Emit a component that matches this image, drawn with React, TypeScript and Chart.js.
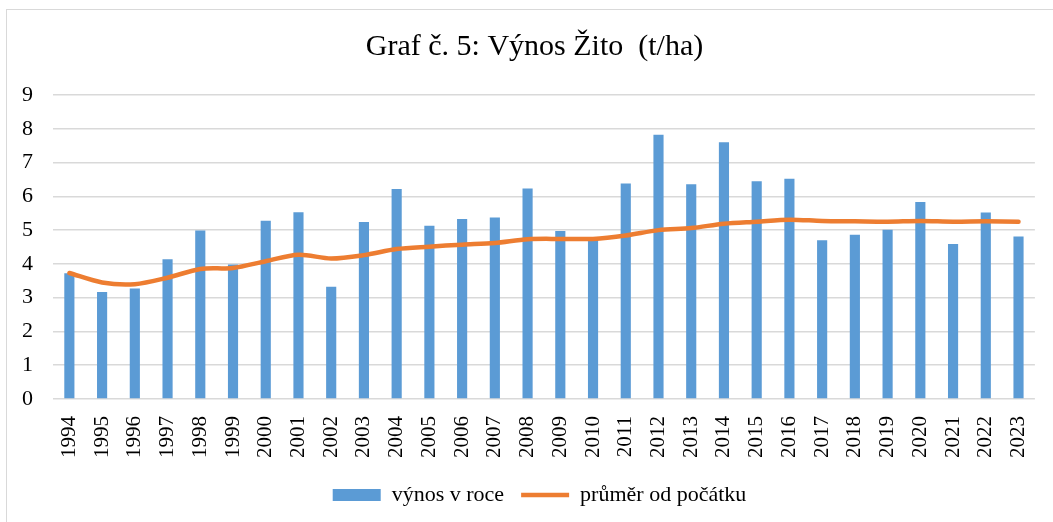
import React, { useEffect, useRef } from "react";
import { Chart, registerables } from "chart.js";

Chart.register(...registerables);

const years = [
  "1994", "1995", "1996", "1997", "1998", "1999", "2000", "2001", "2002", "2003",
  "2004", "2005", "2006", "2007", "2008", "2009", "2010", "2011", "2012", "2013",
  "2014", "2015", "2016", "2017", "2018", "2019", "2020", "2021", "2022", "2023",
];

const yieldPerYear = [
  3.72, 3.17, 3.27, 4.14, 4.99, 3.98, 5.28, 5.53, 3.32, 5.24,
  6.22, 5.13, 5.33, 5.37, 6.23, 4.97, 4.73, 6.38, 7.82, 6.36,
  7.60, 6.45, 6.52, 4.70, 4.86, 5.01, 5.83, 4.59, 5.52, 4.81,
];

const averageSinceStart = [
  3.73, 3.45, 3.40, 3.59, 3.85, 3.88, 4.08, 4.27, 4.16, 4.26,
  4.44, 4.51, 4.57, 4.62, 4.73, 4.74, 4.74, 4.84, 5.00, 5.06,
  5.19, 5.25, 5.31, 5.27, 5.26, 5.25, 5.27, 5.25, 5.26, 5.25,
];

const yTicks = [0, 1, 2, 3, 4, 5, 6, 7, 8, 9];

const titleText = "Graf č. 5: Výnos Žito  (t/ha)";
const seriesNames = ["výnos v roce", "průměr od počátku"];

const FONT = "'Liberation Serif', 'Times New Roman', serif";

const shiftBoxes = {
  id: "shiftBoxes",
  afterLayout(chart: any) {
    if (chart.titleBlock) chart.titleBlock.left += 30;
    if (chart.legend) chart.legend.left += 40;
  },
};

export default function App() {
  const ref = useRef<HTMLCanvasElement | null>(null);

  useEffect(() => {
    if (!ref.current) return;
    const chart = new Chart(ref.current, {
      type: "bar",
      data: {
        labels: years,
        datasets: [
          {
            type: "bar",
            label: seriesNames[0],
            data: yieldPerYear,
            backgroundColor: "#5b9bd5",
            borderWidth: 0,
            barPercentage: 0.31,
            categoryPercentage: 1,
            order: 2,
            pointStyle: "rect",
          } as any,
          {
            type: "line",
            label: seriesNames[1],
            data: averageSinceStart,
            borderColor: "#ed7d31",
            backgroundColor: "#ed7d31",
            borderWidth: 4.5,
            pointRadius: 0,
            pointHoverRadius: 0,
            pointStyle: "line",
            tension: 0.3,
            borderCapStyle: "round",
            borderJoinStyle: "round",
            order: 1,
          } as any,
        ],
      },
      plugins: [shiftBoxes],
      options: {
        responsive: false,
        animation: false,
        devicePixelRatio: 1,
        layout: { padding: { left: 3, right: 17, top: 19, bottom: 6 } },
        plugins: {
          title: {
            display: true,
            text: titleText,
            color: "#000",
            font: { family: FONT, size: 30, weight: "normal" },
            padding: { top: 10, bottom: 30 },
          },
          legend: {
            display: true,
            position: "bottom",
            labels: {
              usePointStyle: true,
              pointStyleWidth: 48,
              boxHeight: 12,
              color: "#000",
              font: { family: FONT, size: 22, lineHeight: 1 },
              padding: 17,
              sort: (a: any, b: any) => a.datasetIndex - b.datasetIndex,
            },
          },
          tooltip: { enabled: false },
        },
        scales: {
          x: {
            grid: { display: false },
            border: { display: false },
            ticks: {
              color: "#000",
              font: { family: FONT, size: 21 },
              minRotation: 90,
              maxRotation: 90,
              autoSkip: false,
              padding: 9,
            },
          },
          y: {
            min: 0,
            max: 9,
            afterBuildTicks: (axis: any) => {
              axis.ticks = yTicks.map((v) => ({ value: v }));
            },
            afterFit: (axis: any) => {
              axis.width = 50;
            },
            grid: { color: "#d9d9d9", lineWidth: 1.5, drawTicks: false },
            border: { display: false },
            ticks: {
              color: "#000",
              font: { family: FONT, size: 22 },
              padding: 20,
            },
          },
        },
      },
    });
    return () => chart.destroy();
  }, []);

  return (
    <div
      style={{
        position: "fixed",
        left: 0,
        top: 0,
        width: 1053,
        height: 522,
        overflow: "hidden",
        background: "#fff",
      }}
    >
      <div
        style={{
          position: "absolute",
          left: 6,
          top: 9,
          width: 1200,
          height: 700,
          border: "1.5px solid #d9d9d9",
        }}
      />
      <canvas
        ref={ref}
        width={1053}
        height={522}
        style={{ position: "absolute", left: 0, top: 0, width: 1053, height: 522 }}
      />
    </div>
  );
}
